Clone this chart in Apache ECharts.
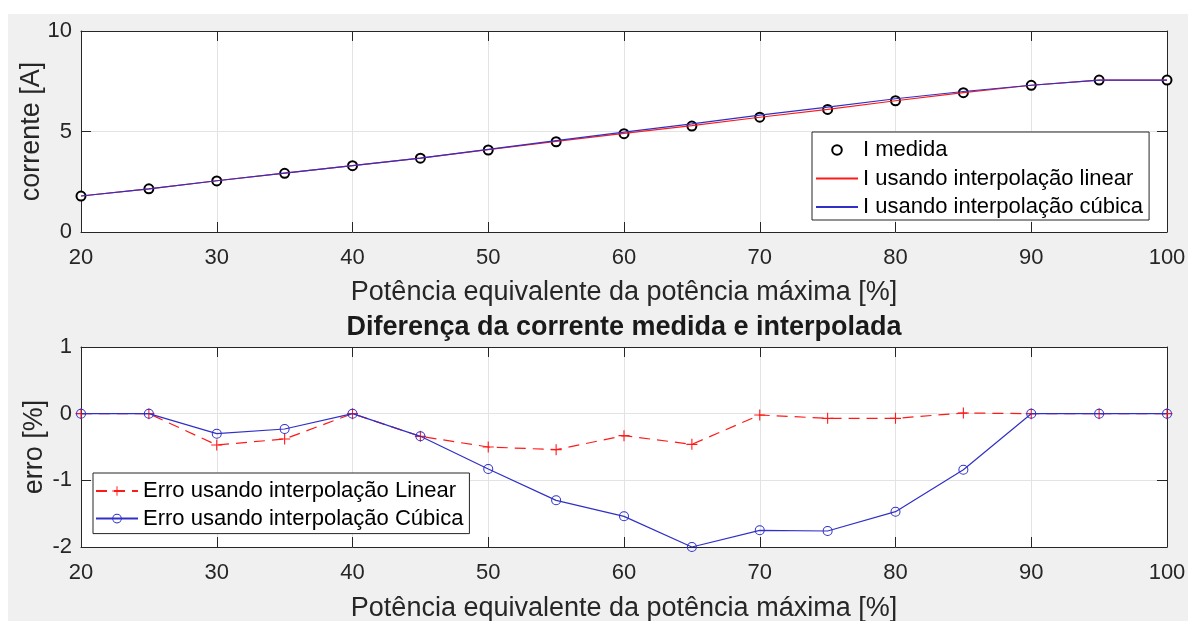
<!DOCTYPE html>
<html>
<head>
<meta charset="utf-8">
<script src="https://cdn.jsdelivr.net/npm/echarts@6/dist/echarts.min.js"></script>
<style>
  html, body { margin: 0; padding: 0; background: #ffffff; }
  #wrap { position: relative; width: 1188px; height: 621px; overflow: hidden; }
  #panel { position: absolute; left: 8px; top: 14px; width: 1180px; height: 607px; background: #f0f0f0; z-index: 0; }
  #chart { position: absolute; left: 0; top: 0; width: 1188px; height: 621px; z-index: 1; }
</style>
</head>
<body>
<div id="wrap">
  <div id="panel"></div>
  <div id="chart"></div>
</div>
<script>
// Potência equivalente (% da potência máxima)
const potencia = [20, 25, 30, 35, 40, 45, 50, 55, 60, 65, 70, 75, 80, 85, 90, 95, 100];

// Corrente medida [A]
const correnteMedida = [1.79, 2.15, 2.54, 2.92, 3.30, 3.67, 4.08, 4.49, 4.89, 5.27, 5.71, 6.10, 6.53, 6.93, 7.30, 7.56, 7.56];
// Corrente obtida por interpolação linear [A]
const correnteLinear = [1.79, 2.15, 2.55, 2.93, 3.30, 3.68, 4.10, 4.51, 4.91, 5.29, 5.71, 6.10, 6.53, 6.93, 7.30, 7.56, 7.56];
// Corrente obtida por interpolação cúbica [A]
const correnteCubica = [1.79, 2.15, 2.55, 2.93, 3.30, 3.68, 4.11, 4.55, 4.97, 5.38, 5.81, 6.21, 6.63, 6.99, 7.30, 7.56, 7.56];

// Erro relativo [%]
const erroLinear = [0, 0, -0.47, -0.38, 0, -0.34, -0.50, -0.54, -0.33, -0.46, -0.02, -0.07, -0.07, 0.01, 0, 0, 0];
const erroCubica = [0, 0, -0.30, -0.23, 0, -0.34, -0.83, -1.30, -1.54, -2.00, -1.75, -1.76, -1.47, -0.84, 0, 0, 0];

const xTicks = { min: 20, max: 100, interval: 10 };
const yTicksTop = { min: 0, max: 10, interval: 5 };
const yTicksBottom = { min: -2, max: 1, interval: 1 };

const eixoX = 'Potência equivalente da potência máxima [%]';
const tituloInferior = 'Diferença da corrente medida e interpolada';

const FONT = '"Liberation Sans", Arial, Helvetica, sans-serif';
const INK = '#262626';
const RED = '#ff1a1a';
const BLUE = '#3030c8';

const pairs = (xs, ys) => xs.map((x, i) => [x, ys[i]]);

// plus marker and hollow ring marker as filled paths
const PLUS = 'path://M0,4.5h10v1h-10z M4.5,0h1v10h-1z';
const RING = 'path://M5,0A5,5 0 1,1 5,10A5,5 0 1,1 5,0Z M5,1A4,4 0 1,0 5,9A4,4 0 1,0 5,1Z';

function xAxes(gridIndex, gap) {
  return [{
    type: 'value', gridIndex, position: 'bottom',
    min: xTicks.min, max: xTicks.max, interval: xTicks.interval,
    name: eixoX, nameLocation: 'middle', nameGap: gap, nameMoveOverlap: false,
    nameTextStyle: { fontFamily: FONT, fontSize: 27, color: INK },
    axisLine: { show: true, onZero: false, lineStyle: { color: INK, width: 1 } },
    axisTick: { show: true, inside: true, length: 10, lineStyle: { color: INK } },
    axisLabel: { fontFamily: FONT, fontSize: 22, color: INK, margin: 15 },
    splitLine: { show: true, lineStyle: { color: '#e3e3e3', width: 1 } }
  }, {
    type: 'value', gridIndex, position: 'top',
    min: xTicks.min, max: xTicks.max, interval: xTicks.interval,
    axisLine: { show: true, onZero: false, lineStyle: { color: INK, width: 1 } },
    axisTick: { show: true, inside: true, length: 10, lineStyle: { color: INK } },
    axisLabel: { show: false },
    splitLine: { show: false }
  }];
}

function yAxes(gridIndex, ticks, name, gap) {
  return [{
    type: 'value', gridIndex, position: 'left',
    min: ticks.min, max: ticks.max, interval: ticks.interval,
    name, nameLocation: 'middle', nameGap: gap, nameMoveOverlap: false,
    nameTextStyle: { fontFamily: FONT, fontSize: 27, color: INK },
    axisLine: { show: true, onZero: false, lineStyle: { color: INK, width: 1 } },
    axisTick: { show: true, inside: true, length: 10, lineStyle: { color: INK } },
    axisLabel: { fontFamily: FONT, fontSize: 22, color: INK, margin: 9 },
    splitLine: { show: true, lineStyle: { color: '#e3e3e3', width: 1 } }
  }, {
    type: 'value', gridIndex, position: 'right',
    min: ticks.min, max: ticks.max, interval: ticks.interval,
    axisLine: { show: true, onZero: false, lineStyle: { color: INK, width: 1 } },
    axisTick: { show: true, inside: true, length: 10, lineStyle: { color: INK } },
    axisLabel: { show: false },
    splitLine: { show: false }
  }];
}

const chart = echarts.init(document.getElementById('chart'), null, { renderer: 'canvas' });

chart.setOption({
  backgroundColor: 'transparent',
  animation: false,
  grid: [
    { left: 81, top: 31, width: 1086, height: 201, show: true, backgroundColor: '#ffffff', borderWidth: 0, outerBoundsMode: 'none', containLabel: false },
    { left: 81, top: 347, width: 1086, height: 200, show: true, backgroundColor: '#ffffff', borderWidth: 0, outerBoundsMode: 'none', containLabel: false }
  ],
  xAxis: [...xAxes(0, 47), ...xAxes(1, 48)],
  yAxis: [...yAxes(0, yTicksTop, 'corrente [A]', 36), ...yAxes(1, yTicksBottom, 'erro [%]', 33)],
  graphic: [{
    type: 'text', x: 624, y: 328, z: 10,
    style: { text: tituloInferior, fontFamily: FONT, fontSize: 27, fontWeight: 'bold', fill: '#1a1a1a', textAlign: 'center', textVerticalAlign: 'middle' }
  }],
  legend: [{
    orient: 'vertical', left: 812, top: 132,
    padding: [7, 6, 2, 3], itemGap: 6.5, itemWidth: 42, itemHeight: 12,
    backgroundColor: '#ffffff', borderColor: INK, borderWidth: 1, borderRadius: 0,
    textStyle: { fontFamily: FONT, fontSize: 22, color: '#000', lineHeight: 22 },
    data: [
      { name: 'I medida' },
      { name: 'I usando interpolação linear', itemStyle: { opacity: 0 } },
      { name: 'I usando interpolação cúbica', itemStyle: { opacity: 0 } }
    ]
  }, {
    orient: 'vertical', left: 93, top: 473,
    padding: [7, 6, 4, 2], itemGap: 5.6, itemWidth: 42, itemHeight: 12,
    backgroundColor: '#ffffff', borderColor: INK, borderWidth: 1, borderRadius: 0,
    textStyle: { fontFamily: FONT, fontSize: 22, color: '#000', lineHeight: 22 },
    data: ['Erro usando interpolação Linear', 'Erro usando interpolação Cúbica']
  }],
  series: [
    {
      name: 'I medida', type: 'line', xAxisIndex: 0, yAxisIndex: 0,
      data: pairs(potencia, correnteMedida),
      symbol: 'emptyCircle', symbolSize: 9,
      itemStyle: { color: '#000', borderColor: '#000', borderWidth: 3 },
      lineStyle: { width: 0, opacity: 0 }, z: 2
    },
    {
      name: 'I usando interpolação linear', type: 'line', xAxisIndex: 0, yAxisIndex: 0,
      data: pairs(potencia, correnteLinear),
      symbol: 'none', lineStyle: { color: RED, width: 1.2 }, itemStyle: { color: RED }, z: 3
    },
    {
      name: 'I usando interpolação cúbica', type: 'line', xAxisIndex: 0, yAxisIndex: 0,
      data: pairs(potencia, correnteCubica),
      symbol: 'none', lineStyle: { color: BLUE, width: 1.2 }, itemStyle: { color: BLUE }, z: 4
    },
    {
      name: 'Erro usando interpolação Linear', type: 'line', xAxisIndex: 2, yAxisIndex: 2,
      data: pairs(potencia, erroLinear),
      symbol: PLUS, symbolSize: 11,
      itemStyle: { color: RED },
      lineStyle: { color: RED, width: 1.2, type: [11, 7] }, z: 3
    },
    {
      name: 'Erro usando interpolação Cúbica', type: 'line', xAxisIndex: 2, yAxisIndex: 2,
      data: pairs(potencia, erroCubica),
      symbol: RING, symbolSize: 10,
      itemStyle: { color: BLUE },
      lineStyle: { color: BLUE, width: 1.2 }, z: 4
    }
  ]
});
</script>
</body>
</html>
